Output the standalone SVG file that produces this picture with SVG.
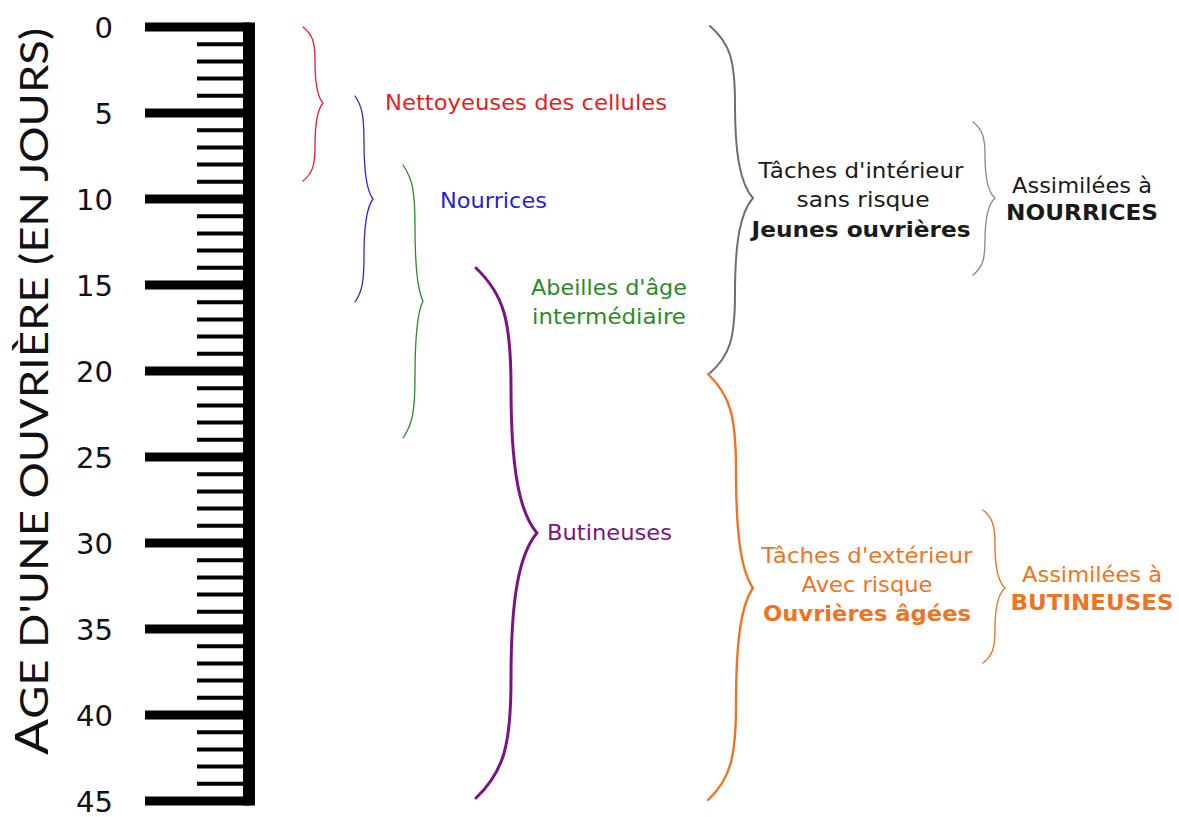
<svg xmlns="http://www.w3.org/2000/svg" width="1179" height="817" viewBox="0 0 1179 817">
<style>
.lbl{font-family:"DejaVu Sans","Verdana",sans-serif;font-size:21px}
.b{font-weight:bold}
.num{font-family:"DejaVu Sans","Verdana",sans-serif;font-size:29px;fill:#111;text-anchor:end}
.mid{text-anchor:middle}
.brace{fill:none;stroke-linecap:round;stroke-linejoin:round}
.red{fill:#e41e26}.blue{fill:#1f1fd6}.green{fill:#2a8a2a}.purple{fill:#7b1383}.dark{fill:#1a1a1a}.orange{fill:#f07322}
</style>
<rect width="1179" height="817" fill="#fff"/>
<g id="ruler">
<path d="M197 44.2H244M197 61.4H244M197 78.6H244M197 95.8H244M197 130.2H244M197 147.4H244M197 164.6H244M197 181.8H244M197 216.2H244M197 233.4H244M197 250.6H244M197 267.8H244M197 302.2H244M197 319.4H244M197 336.6H244M197 353.8H244M197 388.2H244M197 405.4H244M197 422.6H244M197 439.8H244M197 474.2H244M197 491.4H244M197 508.6H244M197 525.8H244M197 560.2H244M197 577.4H244M197 594.6H244M197 611.8H244M197 646.2H244M197 663.4H244M197 680.6H244M197 697.8H244M197 732.2H244M197 749.4H244M197 766.6H244M197 783.8H244" stroke="#000" stroke-width="4"/>
<path d="M145 27H250M145 113H250M145 199H250M145 285H250M145 371H250M145 457H250M145 543H250M145 629H250M145 715H250M145 801H250" stroke="#000" stroke-width="9"/>
<rect x="243" y="22.5" width="12" height="783" fill="#000"/>
<text class="num" x="113" y="38">0</text>
<text class="num" x="113" y="124">5</text>
<text class="num" x="113" y="210">10</text>
<text class="num" x="113" y="296">15</text>
<text class="num" x="113" y="382">20</text>
<text class="num" x="113" y="468">25</text>
<text class="num" x="113" y="554">30</text>
<text class="num" x="113" y="640">35</text>
<text class="num" x="113" y="726">40</text>
<text class="num" x="113" y="812">45</text>
</g>
<g id="title">
<text transform="translate(48,755) rotate(-90)" font-family="Lato,'Open Sans',sans-serif" fill="#111" textLength="727" lengthAdjust="spacingAndGlyphs"><tspan font-size="46">A</tspan><tspan font-size="39">GE D'UNE OUVRIÈRE (EN JOURS)</tspan></text>
</g>
<g id="connectors">
<path class="brace" stroke="#e41e26" stroke-width="1.3" d="M303 27C312.6 34.6 315 42.2 315 61.2C315 84 317.4 96.9 323 103C317.4 109.2 315 122.5 315 145.9C315 165.4 312.6 173.2 303 181"/>
<path class="brace" stroke="#2a2ad8" stroke-width="1.3" d="M355 96C362.2 106.3 364 116.6 364 142.4C364 173.3 366.7 190.8 373 199C366.7 207.2 364 224.8 364 255.7C364 281.4 362.2 291.7 355 302"/>
<path class="brace" stroke="#2a8a2a" stroke-width="1.3" d="M403 165C412.6 178.6 415 192.2 415 226.2C415 267 417.4 290.1 423 301C417.4 312 415 335.25 415 376.35C415 410.6 412.6 424.3 403 438"/>
<path class="brace" stroke="#7b1383" stroke-width="3" d="M476 268C504 294.5 511 321 511 387.25C511 466.75 518.8 511.8 537 533C518.8 554.2 511 599.25 511 678.75C511 745 504 771.5 476 798"/>
<path class="brace" stroke="#6e6e6e" stroke-width="2" d="M710 26C730 43.2 735 60.4 735 103.4C735 155 740.4 184.2 753 198C740.4 212 735 241.75 735 294.25C735 338 730 355.5 710 373"/>
<path class="brace" stroke="#f07322" stroke-width="2.4" d="M708 374C730.4 395.4 736 416.8 736 470.3C736 534.5 741.1 570.9 753 588C741.1 605 736 641 736 704.6C736 757.6 730.4 778.8 708 800"/>
<path class="brace" stroke="#888" stroke-width="1.3" d="M973 122C982.6 129.6 985 137.2 985 156.2C985 179 988 191.9 995 198C988 204.2 985 217.25 985 240.35C985 259.6 982.6 267.3 973 275"/>
<path class="brace" stroke="#f07322" stroke-width="1.4" d="M983 510C992.6 517.8 995 525.6 995 545.1C995 568.5 998 581.8 1005 588C998 594 995 606.75 995 629.25C995 648 992.6 655.5 983 663"/>
</g>
<g id="nettoyeuses"><text class="lbl red" x="385" y="110" textLength="282" lengthAdjust="spacingAndGlyphs">Nettoyeuses des cellules</text></g>
<g id="nourrices"><text class="lbl blue" x="440" y="208" textLength="107" lengthAdjust="spacingAndGlyphs">Nourrices</text></g>
<g id="abeilles">
<text class="lbl green mid" x="609" y="295" textLength="156" lengthAdjust="spacingAndGlyphs">Abeilles d'âge</text>
<text class="lbl green mid" x="609" y="324" textLength="154" lengthAdjust="spacingAndGlyphs">intermédiaire</text>
</g>
<g id="butineuses"><text class="lbl purple" x="547" y="540" textLength="125" lengthAdjust="spacingAndGlyphs">Butineuses</text></g>
<g id="interieur">
<text class="lbl dark mid" x="861" y="178" textLength="205" lengthAdjust="spacingAndGlyphs">Tâches d'intérieur</text>
<text class="lbl dark mid" x="863" y="207" textLength="133" lengthAdjust="spacingAndGlyphs">sans risque</text>
<text class="lbl dark mid b" x="861" y="237" textLength="219" lengthAdjust="spacingAndGlyphs">Jeunes ouvrières</text>
</g>
<g id="assim-nourrices">
<text class="lbl dark mid" x="1082" y="193" textLength="140" lengthAdjust="spacingAndGlyphs">Assimilées à</text>
<text class="lbl dark mid b" x="1082" y="220" textLength="152" lengthAdjust="spacingAndGlyphs">NOURRICES</text>
</g>
<g id="exterieur">
<text class="lbl orange mid" x="867" y="563" textLength="211" lengthAdjust="spacingAndGlyphs">Tâches d'extérieur</text>
<text class="lbl orange mid" x="867" y="592" textLength="131" lengthAdjust="spacingAndGlyphs">Avec risque</text>
<text class="lbl orange mid b" x="867" y="621" textLength="208" lengthAdjust="spacingAndGlyphs">Ouvrières âgées</text>
</g>
<g id="assim-butineuses">
<text class="lbl orange mid" x="1092" y="582" textLength="140" lengthAdjust="spacingAndGlyphs">Assimilées à</text>
<text class="lbl orange mid b" x="1092" y="610" textLength="163" lengthAdjust="spacingAndGlyphs">BUTINEUSES</text>
</g>
</svg>
